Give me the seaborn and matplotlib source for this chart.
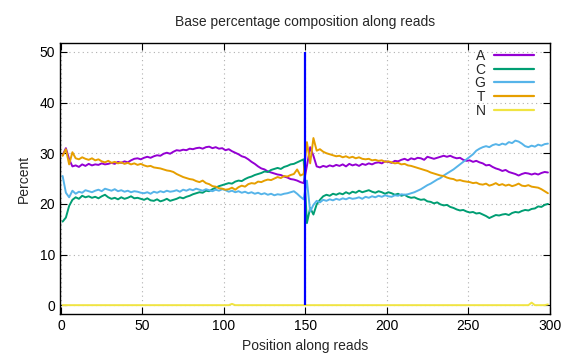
import numpy as np
import pandas as pd
import matplotlib
matplotlib.use("Agg")
import matplotlib.pyplot as plt
import seaborn as sns

# positions along reads (read 1: 1-149, read 2: 151-299), sampled every 2 bases
positions = list(range(1, 300, 2))

base_a = [
    29.6, 31.0, 28.8, 27.4, 27.6, 27.3, 27.8, 27.5, 27.9, 27.6,
    27.8, 27.7, 28.0, 27.8, 27.9, 28.1, 27.9, 28.3, 28.1, 28.4,
    28.2, 28.6, 28.9, 29.0, 28.8, 29.1, 29.3, 29.1, 29.4, 29.6,
    29.5, 29.9, 30.1, 29.9, 30.3, 30.6, 30.5, 30.7, 30.6, 30.9,
    30.8, 31.0, 31.1, 30.9, 31.2, 31.3, 31.0, 31.2, 30.9, 31.0,
    30.6, 30.8, 30.4, 30.1, 29.8, 29.4, 29.2, 28.8, 28.3, 27.9,
    27.4, 27.0, 26.8, 26.4, 26.2, 26.0, 25.8, 25.7, 25.4, 25.2,
    24.9, 24.8, 24.6, 24.3, 24.1,
    27.5, 31.2, 29.5, 27.4, 27.2, 27.5, 27.3, 27.6, 27.4, 27.7,
    27.5, 27.8, 27.4, 27.9, 27.6, 27.8, 27.5, 27.9, 27.7, 28.0,
    27.8, 28.1, 28.2, 28.0, 28.4, 28.3, 28.1, 28.5, 28.4, 28.7,
    28.9, 28.6, 29.0, 28.8, 29.1, 29.0, 28.7, 29.3, 29.1, 28.9,
    29.1, 29.3, 29.5, 29.3, 29.5, 29.2, 29.0, 29.1, 28.7, 28.5,
    28.6, 28.3, 28.5, 28.2, 28.0, 27.6, 27.7, 27.3, 27.0, 26.8,
    26.5, 26.7, 26.3, 26.1, 25.9, 25.6, 25.9, 26.1, 26.0, 25.8,
    26.0, 25.8, 26.1, 26.3, 26.2,
]

base_c = [
    16.5, 17.3, 19.6, 20.8, 21.3, 21.0, 21.6, 21.3, 21.5, 21.2,
    21.4, 21.1, 21.5, 21.8, 21.3, 21.0, 21.2, 20.9, 21.3, 21.0,
    21.2, 21.5, 21.1, 21.2, 21.0, 20.8, 21.1, 20.7, 20.6, 20.9,
    20.5, 20.7, 21.0, 20.6, 20.8, 21.0, 21.3, 21.1, 21.4, 21.6,
    21.9, 22.1, 22.3, 22.2, 22.6, 22.5, 22.9, 23.2, 23.5, 23.7,
    23.9, 24.1, 24.0, 24.4, 24.6, 24.5, 24.9, 25.2, 25.4, 25.7,
    25.9, 26.1, 26.4, 26.3, 26.7, 26.9, 27.1, 26.9, 27.3, 27.5,
    27.8, 27.9, 28.2, 28.5, 28.8,
    16.2, 19.2, 17.9, 19.9, 20.8, 21.5, 21.8, 21.6, 22.0, 21.8,
    22.1, 21.9, 22.3, 22.0, 22.4, 22.2, 22.6, 22.3, 22.5, 22.7,
    22.4, 22.2, 22.5, 22.3, 22.0, 22.3, 22.1, 21.8, 22.0, 21.6,
    21.8, 21.4, 21.2, 21.3, 21.0, 20.8, 20.9, 20.5, 20.4, 20.1,
    20.3, 19.9, 19.7, 19.8, 19.4, 19.2, 18.9, 18.7, 18.8, 18.5,
    18.3, 18.4, 18.1, 18.2, 17.9, 17.6, 17.2, 17.5, 17.8, 17.7,
    17.9, 18.0, 17.8, 18.2, 18.4, 18.3, 18.6, 18.8, 18.7, 19.0,
    19.1, 19.5, 19.4, 19.8, 20.0,
]

base_g = [
    25.5, 22.2, 21.3, 22.6, 22.0, 22.4, 22.2, 22.7, 22.5, 22.3,
    22.6, 22.8, 22.5, 23.0, 22.8, 22.6, 22.9, 22.5, 22.7, 22.4,
    22.6, 22.3, 22.5, 22.4, 22.2, 22.1, 22.3, 22.0, 22.4, 22.2,
    22.5, 22.3, 22.6, 22.4, 22.5, 22.7, 22.4, 22.8, 22.6, 22.9,
    22.7, 23.0, 22.8, 22.6, 22.9, 22.7, 22.5, 22.8, 22.6, 22.9,
    22.7, 22.4, 22.6, 22.3, 22.5, 22.2, 22.4, 22.1, 22.3, 22.0,
    22.2, 21.9, 22.1, 21.8, 22.0, 21.7, 21.9, 21.8, 22.0, 22.1,
    22.3, 22.5, 22.0, 21.4, 20.9,
    24.6, 18.5, 19.8, 20.6, 20.3, 20.8, 20.6, 20.9, 20.7, 21.0,
    20.8, 21.1, 20.9, 21.2, 21.0, 21.1, 21.3, 21.0, 21.4, 21.2,
    21.5, 21.3, 21.6, 21.4, 21.7, 21.5, 21.4, 21.7, 21.6, 21.9,
    21.8, 21.9, 22.1, 22.3, 22.6, 22.9, 23.3, 23.7, 24.0, 24.4,
    24.8, 25.1, 25.6, 26.0, 26.4, 26.8, 27.3, 27.8, 28.3, 28.8,
    29.3, 29.8, 30.5, 30.9, 31.2, 31.4, 31.2, 31.6, 31.8, 31.6,
    31.9, 31.7, 32.2, 32.0, 32.5, 32.3, 31.9, 31.4, 31.2, 31.5,
    31.3, 31.7, 31.5, 31.8, 31.9,
]

base_t = [
    29.5, 30.8, 27.8, 30.2, 29.0, 28.8, 29.2, 28.9, 28.7, 29.0,
    28.6, 28.8, 28.4, 28.2, 28.5, 28.1, 28.3, 28.0, 28.2, 27.9,
    28.1, 27.8, 28.0, 27.7, 27.9, 27.6, 27.4, 27.5, 27.2, 27.1,
    27.0, 26.8, 26.6, 26.5, 26.3, 25.9, 25.6, 25.3, 25.1, 24.9,
    24.8, 24.5, 24.3, 24.6, 24.1, 23.9, 23.5, 23.4, 23.1, 23.0,
    22.8, 22.9, 23.2, 22.8, 23.3, 23.6, 23.4, 23.9, 24.1, 24.0,
    24.4, 24.3, 24.6, 24.8, 24.7, 25.0, 25.3, 25.1, 25.5, 25.4,
    25.7, 25.9, 26.8, 25.6, 25.9,
    32.2, 28.0, 33.0, 30.5, 30.8, 30.3, 30.0, 29.8, 29.6, 29.4,
    29.5, 29.2, 29.4, 29.1, 29.3, 29.0, 29.2, 28.9, 28.8, 28.9,
    28.6, 28.7, 28.5, 28.6, 28.3, 28.4, 28.2, 28.0, 28.1, 27.8,
    27.9, 27.6, 27.5, 27.3, 27.1, 26.9, 26.7, 26.5, 26.2, 26.0,
    25.8, 25.6, 25.5, 25.2, 25.0, 24.9, 24.6, 24.7, 24.5, 24.4,
    24.3, 24.1, 24.2, 23.9, 23.8, 24.0, 23.6, 23.8, 24.1, 23.7,
    23.9, 23.6, 23.8, 23.5, 23.7, 24.0, 23.6, 23.5, 23.7, 23.4,
    23.3, 23.2, 22.9, 22.5, 22.1,
]

base_n = [0.0] * 150
base_n[52] = 0.25   # position 105
base_n[144] = 0.5   # position 289
base_n[149] = 0.15  # position 299

bases = ["A", "C", "G", "T", "N"]
base_colors = ["#9400d3", "#009e73", "#56b4e9", "#e69f00", "#f0e442"]
read_boundary = 150
boundary_span = [0, 50]

frames = []
for name, vals in zip(bases, [base_a, base_c, base_g, base_t, base_n]):
    frames.append(pd.DataFrame({"position": positions, "percent": vals, "base": name}))
df = pd.concat(frames, ignore_index=True)

sns.set_style("ticks")
plt.rcParams["font.family"] = ["Liberation Sans", "DejaVu Sans"]

fig = plt.figure(figsize=(5.76, 3.6), dpi=100)
ax = fig.add_axes([0.1045, 0.127, 0.851, 0.754])

sns.lineplot(data=df, x="position", y="percent", hue="base", hue_order=bases,
             palette=base_colors, linewidth=1.4, ax=ax, sort=False)

ax.vlines(read_boundary, boundary_span[0], boundary_span[1], color="#0000ff", linewidth=1.6, zorder=5)

ax.set_xlim(-0.5, 300.5)
ax.set_ylim(-1.8, 51.8)
ax.set_xticks(range(0, 301, 50))
ax.set_yticks(range(0, 51, 10))
ax.grid(True, linestyle=(0, (1, 3)), color="#b0b0b0", linewidth=0.8)
ax.tick_params(direction="in", length=5, width=0.8, top=True, right=True, labelsize=10, colors="black")
for sp in ax.spines.values():
    sp.set_linewidth(1.0)
    sp.set_color("black")

ax.set_title("Base percentage composition along reads", fontsize=10, pad=12)
ax.set_xlabel("Position along reads", fontsize=10, labelpad=4)
ax.set_ylabel("Percent", fontsize=10, labelpad=6)

leg = ax.legend(loc="upper right", frameon=False, markerfirst=False, fontsize=10,
                handlelength=2.9, handletextpad=0.6, labelspacing=-0.02,
                borderaxespad=0.35, bbox_to_anchor=(0.988, 1.016))
for line in leg.get_lines():
    line.set_linewidth(1.6)
for t in leg.get_texts():
    t.set_ha("right")

fig.savefig("out.png", dpi=100)
